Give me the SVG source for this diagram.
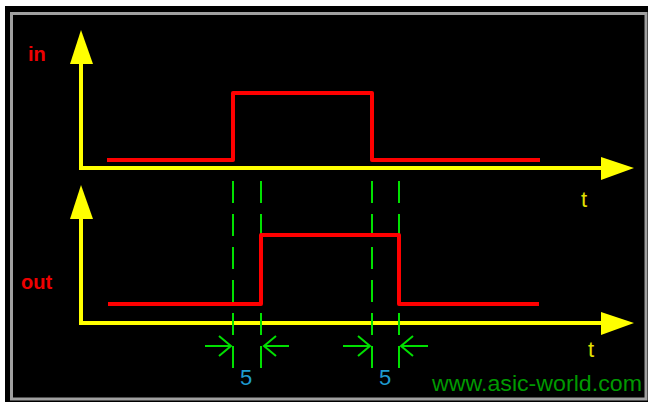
<svg xmlns="http://www.w3.org/2000/svg" width="648" height="402" viewBox="0 0 648 402">
<style>
.axis{stroke:#ffff00;stroke-width:4;fill:none}
.head{fill:#ffff00}
.sig{stroke:#ff0000;stroke-width:4;fill:none;stroke-linejoin:round}
.dash{stroke:#00e000;stroke-width:2;stroke-dasharray:22 11;fill:none}
.dim{stroke:#00e000;stroke-width:2;fill:none}
.lbl{font-family:"Liberation Sans",Arial,sans-serif;font-weight:bold;font-size:20px;fill:#ee0000}
.t{font-family:"Liberation Sans",Arial,sans-serif;font-size:22px;fill:#e0e000}
.num{font-family:"Liberation Sans",Arial,sans-serif;font-size:22px;fill:#1e9bd0;text-anchor:middle}
.web{font-family:"Liberation Sans",Arial,sans-serif;font-size:22px;fill:#009a00}
</style>
<rect x="0" y="0" width="648" height="402" fill="#ffffff"/>
<rect x="5" y="6" width="643" height="396" fill="#000000"/>
<rect x="11.5" y="13.5" width="634.5" height="385.5" fill="none" stroke="#a0a0a0" stroke-width="3"/>
<g id="axes-in">
<path class="axis" d="M81,62 V168 H602"/>
<polygon class="head" points="81,30 70,64 93,64"/>
<polygon class="head" points="601,157 634,168 601,180"/>
</g>
<g id="axes-out">
<path class="axis" d="M81,217 V323 H602"/>
<polygon class="head" points="81,185 70,219 93,219"/>
<polygon class="head" points="601,312 634,323 601,335"/>
</g>
<g id="connectors">
<line class="dash" x1="233" y1="181" x2="233" y2="368"/>
<line class="dash" x1="261" y1="181" x2="261" y2="368"/>
<line class="dash" x1="372" y1="181" x2="372" y2="368"/>
<line class="dash" x1="399" y1="181" x2="399" y2="368"/>
<path class="dim" d="M205,346 H231 M219,336 L231,346 L219,356"/>
<path class="dim" d="M289,346 H264 M276,336 L264,346 L276,356"/>
<path class="dim" d="M343,346 H370 M358,336 L370,346 L358,356"/>
<path class="dim" d="M428,346 H401 M413,336 L401,346 L413,356"/>
</g>
<g id="signal-in">
<path class="sig" d="M107,160 H233 V93 H372 V160 H540"/>
</g>
<g id="signal-out">
<path class="sig" d="M108,304 H261 V235 H399 V304 H539"/>
</g>
<g id="labels">
<text class="lbl" x="28" y="61">in</text>
<text class="lbl" x="21" y="289">out</text>
<text class="t" x="581" y="207">t</text>
<text class="t" x="588" y="357">t</text>
<text class="num" x="246" y="385">5</text>
<text class="num" x="385" y="385">5</text>
<text class="web" x="432" y="391" textLength="210" lengthAdjust="spacingAndGlyphs">www.asic-world.com</text>
</g>
</svg>
